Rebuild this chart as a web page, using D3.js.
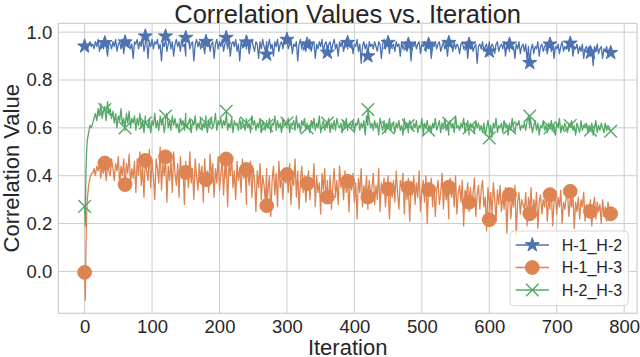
<!DOCTYPE html>
<html>
<head>
<meta charset="utf-8">
<script src="https://cdn.jsdelivr.net/npm/d3@7"></script>
<style>
  body { margin: 0; background: #fff; }
  svg { display: block; font-family: "Liberation Sans", Arial, sans-serif; }
</style>
</head>
<body>
<svg id="chart"></svg>
<script>
// iterations: a few early points, then every 2nd iteration, plus the marker iterations
const headIters = [1, 2, 3, 4, 6, 8, 10];
const bodyIters = d3.range(12, 779, 2);
const markerIters = d3.range(0, 781, 30);

const xTicks = [0, 100, 200, 300, 400, 500, 600, 700, 800];
const yTicks = [0.0, 0.2, 0.4, 0.6, 0.8, 1.0];

// H-1_H-2
const h12Head = [0.93, 0.95, 0.94, 0.92, 0.95, 0.96, 0.94];
const h12Body = [
  .95,.93,.96,.94,.97,.92,.95,.96,.93,.97,.94,.90,.96,.95,.93,.96,
  .94,.97,.92,.95,.96,.93,.97,.91,.95,.96,.94,.97,.93,.95,.89,.96,
  .95,.97,.93,.96,.94,.98,.92,.95,.97,.89,.96,.94,.97,.93,.96,.95,
  .97,.93,.95,.88,.96,.94,.97,.92,.95,.97,.93,.96,.90,.95,.97,.94,
  .96,.92,.97,.94,.95,.90,.96,.97,.93,.95,.96,.88,.95,.97,.94,.96,
  .93,.97,.95,.91,.96,.94,.97,.92,.95,.96,.89,.95,.97,.93,.96,.94,
  .97,.92,.95,.96,.93,.97,.90,.95,.96,.94,.97,.92,.95,.88,.96,.94,
  .95,.97,.93,.96,.91,.95,.97,.94,.92,.96,.95,.89,.96,.93,.97,.94,
  .92,.96,.94,.97,.93,.95,.90,.96,.94,.97,.92,.95,.96,.93,.97,.95,
  .96,.93,.95,.97,.91,.95,.94,.96,.88,.95,.97,.93,.96,.94,.92,.96,
  .94,.97,.92,.95,.96,.89,.95,.93,.96,.94,.97,.91,.95,.96,.93,.95,
  .96,.92,.95,.97,.93,.95,.90,.96,.94,.96,.92,.95,.97,.93,.95,.94,
  .96,.91,.95,.94,.97,.92,.95,.87,.94,.96,.93,.95,.90,.96,.94,.95,
  .93,.96,.94,.92,.96,.95,.89,.95,.97,.93,.95,.94,.91,.96,.94,.95,
  .92,.96,.94,.95,.90,.96,.93,.95,.96,.92,.94,.96,.88,.95,.94,.96,
  .93,.95,.96,.91,.95,.94,.96,.92,.95,.93,.96,.89,.95,.94,.96,.93,
  .95,.96,.92,.94,.96,.93,.95,.90,.96,.94,.95,.92,.96,.93,.95,.94,
  .91,.95,.96,.93,.94,.96,.89,.95,.93,.96,.92,.94,.95,.87,.94,.95,
  .93,.96,.92,.94,.95,.90,.96,.93,.95,.94,.91,.95,.96,.92,.94,.95,
  .93,.96,.90,.94,.95,.92,.96,.93,.94,.89,.95,.93,.96,.91,.94,.95,
  .92,.95,.88,.94,.86,.93,.95,.91,.94,.93,.96,.90,.94,.95,.92,.94,
  .95,.91,.94,.96,.92,.95,.89,.94,.93,.95,.91,.94,.96,.92,.94,.93,
  .95,.92,.94,.96,.90,.94,.93,.95,.91,.94,.92,.95,.89,.93,.94,.92,
  .94,.90,.93,.86,.94,.92,.95,.91,.93,.94,.89,.93,.92,.94,.90,.93
];
const h12Markers = [0.941, 0.955, 0.958, 0.983, 0.983, 0.977, 0.960, 0.977, 0.958, 0.907,
  0.969, 0.949, 0.915, 0.956, 0.900, 0.956, 0.949, 0.949, 0.956, 0.949,
  0.920, 0.949, 0.872, 0.949, 0.953, 0.915, 0.914];

// H-1_H-3
const h13Head = [-0.12, 0.10, 0.24, 0.30, 0.36, 0.39, 0.41];
const h13Body = [
  .41,.43,.40,.44,.42,.45,.39,.44,.41,.46,.38,.44,.42,.40,.47,.43,
  .38,.45,.42,.48,.36,.44,.40,.47,.34,.45,.41,.49,.37,.43,.39,.46,
  .33,.47,.40,.50,.36,.44,.31,.48,.42,.38,.51,.35,.46,.40,.30,.47,
  .43,.37,.52,.34,.45,.40,.49,.29,.44,.38,.47,.33,.50,.41,.36,.45,
  .31,.48,.39,.44,.28,.46,.42,.35,.50,.37,.43,.30,.47,.40,.34,.45,
  .38,.44,.29,.47,.36,.42,.33,.49,.39,.45,.31,.43,.37,.48,.34,.41,
  .46,.32,.44,.39,.27,.45,.40,.48,.35,.42,.30,.46,.38,.43,.33,.47,
  .39,.44,.28,.41,.36,.46,.31,.43,.38,.25,.42,.35,.45,.30,.40,.36,
  .29,.43,.34,.40,.23,.38,.44,.32,.41,.27,.46,.35,.39,.30,.43,.37,
  .41,.33,.45,.28,.39,.36,.47,.31,.42,.26,.38,.44,.33,.40,.29,.37,
  .42,.30,.39,.35,.45,.27,.40,.33,.37,.24,.41,.34,.43,.29,.38,.32,
  .40,.26,.36,.43,.31,.38,.28,.44,.35,.39,.30,.42,.33,.37,.25,.40,
  .34,.41,.29,.37,.22,.39,.33,.43,.27,.36,.31,.40,.26,.38,.32,.35,
  .41,.28,.36,.30,.43,.25,.37,.33,.39,.27,.34,.40,.22,.36,.31,.38,
  .29,.42,.33,.26,.38,.35,.41,.24,.36,.30,.39,.21,.35,.32,.40,.28,
  .37,.31,.42,.25,.34,.38,.29,.40,.20,.35,.32,.39,.27,.36,.23,.34,
  .38,.28,.33,.41,.26,.37,.30,.35,.22,.39,.31,.36,.27,.40,.24,.33,
  .36,.29,.38,.19,.34,.31,.37,.25,.35,.28,.33,.39,.23,.32,.36,.26,
  .34,.38,.27,.31,.17,.35,.29,.33,.24,.37,.30,.21,.34,.28,.36,.25,
  .32,.26,.35,.16,.30,.34,.22,.31,.27,.36,.15,.29,.33,.24,.30,.28,
  .26,.33,.19,.31,.27,.35,.22,.30,.25,.33,.18,.29,.32,.24,.30,.27,
  .34,.21,.30,.26,.33,.19,.29,.32,.24,.31,.27,.34,.20,.29,.26,.31,
  .33,.23,.30,.27,.32,.18,.29,.25,.31,.22,.30,.27,.33,.21,.28,.26,
  .24,.30,.19,.27,.31,.22,.29,.25,.28,.20,.30,.23,.27,.21,.29,.25
];
const h13Markers = [-0.004, 0.453, 0.363, 0.464, 0.479, 0.414, 0.384, 0.470, 0.426, 0.275,
  0.405, 0.367, 0.311, 0.377, 0.311, 0.345, 0.349, 0.342, 0.352, 0.289,
  0.216, 0.321, 0.241, 0.321, 0.335, 0.251, 0.241];

// H-2_H-3
const h23Head = [0.19, 0.42, 0.50, 0.55, 0.58, 0.61, 0.60];
const h23Body = [
  .62,.64,.66,.63,.68,.65,.70,.64,.67,.69,.63,.71,.66,.68,.64,.67,
  .62,.66,.60,.65,.63,.68,.61,.64,.59,.66,.62,.67,.60,.64,.62,.65,
  .59,.64,.61,.66,.60,.63,.58,.65,.62,.60,.64,.58,.63,.61,.66,.60,
  .63,.59,.65,.61,.64,.58,.62,.66,.60,.63,.59,.65,.61,.64,.60,.62,
  .58,.64,.61,.63,.59,.66,.60,.62,.64,.58,.63,.61,.65,.59,.62,.60,
  .64,.59,.62,.60,.65,.58,.63,.61,.64,.60,.62,.66,.59,.63,.61,.64,
  .60,.63,.61,.65,.59,.62,.60,.64,.58,.63,.61,.62,.59,.64,.60,.63,
  .61,.59,.64,.60,.62,.58,.65,.61,.63,.59,.62,.60,.64,.58,.63,.61,
  .59,.63,.60,.64,.58,.62,.61,.65,.59,.63,.60,.62,.58,.64,.61,.62,
  .60,.64,.58,.62,.61,.63,.59,.65,.60,.62,.58,.63,.61,.64,.59,.62,
  .61,.58,.63,.60,.64,.59,.62,.60,.65,.58,.61,.63,.59,.62,.60,.64,
  .58,.62,.60,.63,.59,.64,.61,.60,.62,.58,.63,.60,.64,.59,.61,.62,
  .60,.63,.58,.62,.61,.64,.59,.62,.60,.63,.57,.65,.61,.64,.60,.62,
  .59,.63,.60,.62,.57,.64,.61,.59,.63,.58,.62,.60,.64,.59,.61,.62,
  .58,.62,.60,.63,.59,.61,.57,.64,.60,.62,.58,.63,.61,.59,.62,.60,
  .63,.58,.61,.60,.64,.57,.62,.60,.63,.59,.61,.58,.62,.60,.64,.59,
  .61,.63,.58,.62,.60,.64,.59,.61,.57,.63,.60,.62,.58,.65,.60,.61,
  .59,.62,.60,.64,.58,.61,.63,.57,.62,.60,.61,.58,.63,.60,.62,.59,
  .61,.58,.62,.57,.60,.63,.59,.61,.56,.62,.60,.64,.58,.61,.60,.62,
  .58,.63,.60,.61,.57,.62,.59,.64,.60,.58,.62,.61,.63,.59,.61,.60,
  .62,.59,.63,.65,.60,.62,.58,.61,.63,.59,.62,.57,.61,.60,.63,.59,
  .61,.58,.62,.60,.63,.59,.61,.57,.62,.60,.64,.58,.61,.59,.62,.60,
  .58,.62,.60,.63,.59,.61,.57,.62,.60,.58,.63,.59,.61,.60,.62,.58,
  .61,.59,.62,.57,.60,.63,.58,.61,.59,.62,.60,.58,.62,.59,.61,.60
];
const h23Markers = [0.272, 0.677, 0.600, 0.620, 0.649, 0.610, 0.620, 0.669, 0.620, 0.610,
  0.620, 0.600, 0.620, 0.610, 0.677, 0.600, 0.610, 0.590, 0.620, 0.600,
  0.558, 0.600, 0.649, 0.600, 0.610, 0.590, 0.586];

const width = 640;
const height = 357;
const margin = { top: 23.3, right: 3, bottom: 43.7, left: 58.3 };
const textColor = "#262626";
const gridColor = "#cccccc";

const svg = d3.select("#chart").attr("width", width).attr("height", height);

const x = d3.scaleLinear().domain([-39, 819]).range([margin.left, width - margin.right]);
const y = d3.scaleLinear().domain([-0.175, 1.037]).range([height - margin.bottom, margin.top]);

// join head, body and marker points into one sorted line
const buildSeries = (head, body, markers) => {
  const pts = [];
  headIters.forEach((it, i) => pts.push({ it, v: head[i] }));
  bodyIters.forEach((it, i) => pts.push({ it, v: body[i] }));
  markerIters.forEach((it, i) => pts.push({ it, v: markers[i], m: true }));
  return pts.filter((d) => d.v !== undefined).sort((a, b) => a.it - b.it);
};

const series = [
  { name: "H-1_H-2", color: "#4C72B0", marker: "star", pts: buildSeries(h12Head, h12Body, h12Markers) },
  { name: "H-1_H-3", color: "#DD8452", marker: "circle", pts: buildSeries(h13Head, h13Body, h13Markers) },
  { name: "H-2_H-3", color: "#55A868", marker: "x", pts: buildSeries(h23Head, h23Body, h23Markers) },
];

// grid
const grid = svg.append("g");
grid.selectAll(".vgrid").data(xTicks).enter().append("line")
  .attr("x1", (d) => x(d)).attr("x2", (d) => x(d))
  .attr("y1", margin.top).attr("y2", height - margin.bottom)
  .attr("stroke", gridColor).attr("stroke-width", 1);
grid.selectAll(".hgrid").data(yTicks).enter().append("line")
  .attr("x1", margin.left).attr("x2", width - margin.right)
  .attr("y1", (d) => y(d)).attr("y2", (d) => y(d))
  .attr("stroke", gridColor).attr("stroke-width", 1);

// frame
svg.append("rect")
  .attr("x", margin.left).attr("y", margin.top)
  .attr("width", width - margin.right - margin.left)
  .attr("height", height - margin.bottom - margin.top)
  .attr("fill", "none").attr("stroke", gridColor).attr("stroke-width", 1.2);

// axes (labels only, whitegrid style has no tick marks)
const xAxis = svg.append("g")
  .attr("transform", `translate(0, ${height - margin.bottom})`)
  .call(d3.axisBottom(x).tickValues(xTicks).tickSize(0).tickPadding(7).tickFormat(d3.format("d")));
const yAxis = svg.append("g")
  .attr("transform", `translate(${margin.left}, 0)`)
  .call(d3.axisLeft(y).tickValues(yTicks).tickSize(0).tickPadding(6).tickFormat(d3.format(".1f")));
[xAxis, yAxis].forEach((a) => {
  a.select(".domain").remove();
  a.selectAll("text").attr("fill", textColor).style("font-size", "18.5px");
});

const markerPath = (type) => {
  if (type === "star") return d3.symbol().type(d3.symbolStar).size(62)();
  if (type === "circle") return d3.symbol().type(d3.symbolCircle).size(150)();
  const r = 6.3;
  return `M${-r},${-r}L${r},${r}M${-r},${r}L${r},${-r}`;
};

const drawMarker = (sel, s) => {
  sel.append("path")
    .attr("d", markerPath(s.marker))
    .attr("fill", s.marker === "x" ? "none" : s.color)
    .attr("stroke", s.color)
    .attr("stroke-width", s.marker === "x" ? 1.4 : 1);
};

const line = d3.line().x((d) => x(d.it)).y((d) => y(d.v));

const plot = svg.append("g");
series.forEach((s) => {
  const g = plot.append("g");
  g.append("path")
    .datum(s.pts)
    .attr("d", line)
    .attr("fill", "none")
    .attr("stroke", s.color)
    .attr("stroke-width", 1.3)
    .attr("stroke-linejoin", "round");
  g.selectAll(".mk")
    .data(s.pts.filter((d) => d.m))
    .enter()
    .append("g")
    .attr("class", "mk")
    .attr("transform", (d) => `translate(${x(d.it)}, ${y(d.v)})`)
    .each(function () { drawMarker(d3.select(this), s); });
});

// title and labels
svg.append("text")
  .attr("x", (margin.left + width - margin.right) / 2).attr("y", 23)
  .attr("text-anchor", "middle").attr("fill", textColor)
  .style("font-size", "25.5px")
  .text("Correlation Values vs. Iteration");
svg.append("text")
  .attr("x", (margin.left + width - margin.right) / 2).attr("y", 354.5)
  .attr("text-anchor", "middle").attr("fill", textColor)
  .style("font-size", "22px")
  .text("Iteration");
svg.append("text")
  .attr("transform", `translate(19, ${(margin.top + height - margin.bottom) / 2}) rotate(-90)`)
  .attr("text-anchor", "middle").attr("fill", textColor)
  .style("font-size", "22px")
  .text("Correlation Value");

// legend
const legend = svg.append("g").attr("transform", "translate(510, 231)");
legend.append("rect")
  .attr("width", 118.3).attr("height", 74.7).attr("rx", 4)
  .attr("fill", "#fff").attr("fill-opacity", 0.8)
  .attr("stroke", "#d6d6d6").attr("stroke-width", 1);
series.forEach((s, i) => {
  const row = legend.append("g").attr("transform", `translate(0, ${14 + i * 22.5})`);
  row.append("line")
    .attr("x1", 5.7).attr("x2", 39).attr("y1", 0).attr("y2", 0)
    .attr("stroke", s.color).attr("stroke-width", 1.3);
  const m = row.append("g").attr("transform", "translate(22.3, 0)");
  drawMarker(m, s);
  row.append("text")
    .attr("x", 51.7).attr("y", 0).attr("dy", "0.35em")
    .attr("fill", textColor).style("font-size", "16px")
    .text(s.name);
});
</script>
</body>
</html>
